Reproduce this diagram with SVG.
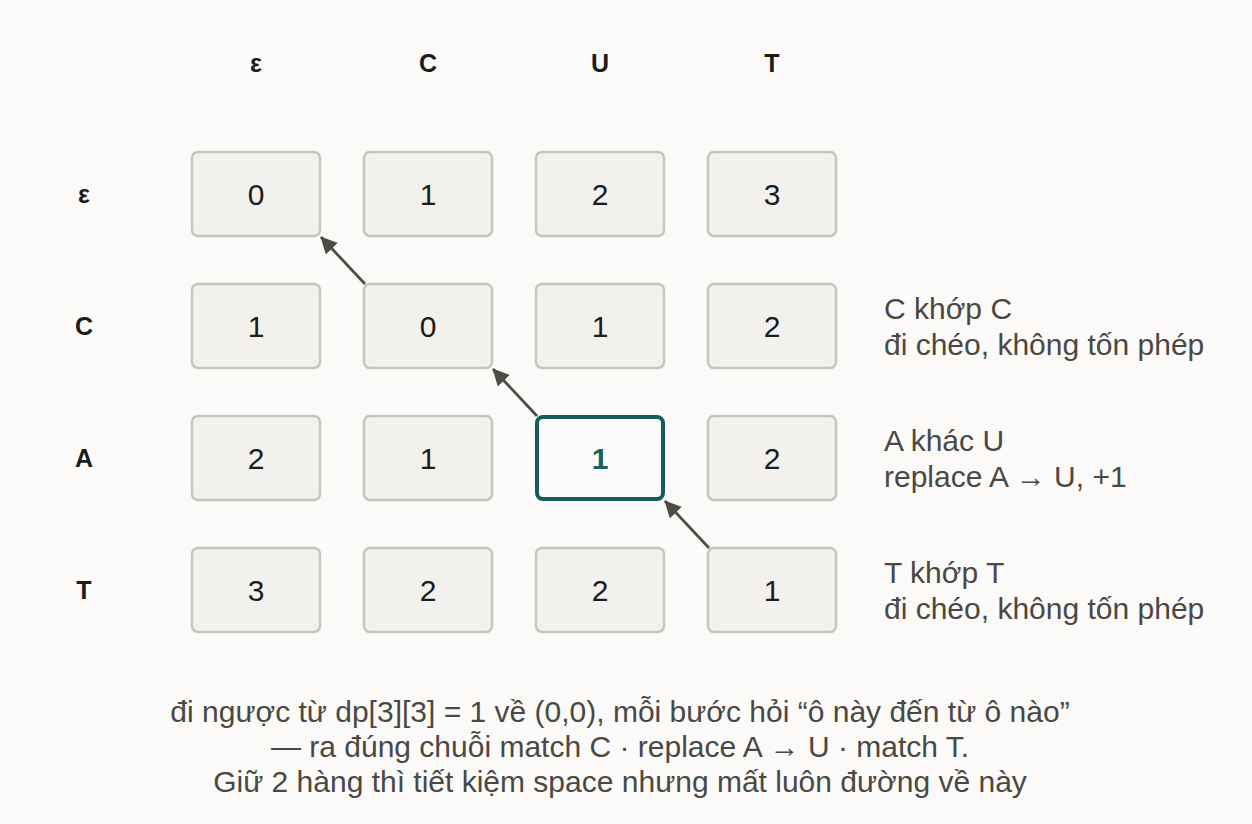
<svg xmlns="http://www.w3.org/2000/svg" width="1252" height="824" viewBox="0 0 1252 824">
<defs>
<marker id="ah" viewBox="0 0 10 10" refX="9.5" refY="5" markerWidth="6" markerHeight="6" markerUnits="strokeWidth" orient="auto">
<path d="M0,0 L10,5 L0,10 Z" fill="#4d4c47"/>
</marker>
<style>
.cell{fill:#f2f1ee;stroke:#c9c6be;stroke-width:2.5}
.hl{fill:#fcfbf9;stroke:#125f5a;stroke-width:4}
.num{font-family:"Liberation Sans",Arial,sans-serif;font-size:30px;fill:#1c1c1a;text-anchor:middle}
.numhl{font-family:"Liberation Sans",Arial,sans-serif;font-size:30px;font-weight:bold;fill:#17625c;text-anchor:middle}
.hdr{font-family:"Liberation Sans",Arial,sans-serif;font-size:25px;font-weight:bold;fill:#1c1c1a;text-anchor:middle}
.note{font-family:"Liberation Sans",Arial,sans-serif;font-size:30px;fill:#4a4843}
.foot{font-family:"Liberation Sans",Arial,sans-serif;font-size:30px;fill:#4a4843;text-anchor:middle}
.arr{stroke:#4d4c47;stroke-width:2.8;fill:none;marker-end:url(#ah)}
</style>
</defs>
<rect x="0" y="0" width="1252" height="824" fill="#fbfaf8"/>
<g id="headers">
<text class="hdr" x="256" y="72">ε</text>
<text class="hdr" x="428" y="72">C</text>
<text class="hdr" x="600" y="72">U</text>
<text class="hdr" x="772" y="72">T</text>
<text class="hdr" x="84" y="203">ε</text>
<text class="hdr" x="84" y="335">C</text>
<text class="hdr" x="84" y="467">A</text>
<text class="hdr" x="84" y="599">T</text>
</g>
<g id="c00"><rect class="cell" x="192" y="152" width="128" height="84" rx="6"/><text class="num" x="256" y="205">0</text></g>
<g id="c01"><rect class="cell" x="364" y="152" width="128" height="84" rx="6"/><text class="num" x="428" y="205">1</text></g>
<g id="c02"><rect class="cell" x="536" y="152" width="128" height="84" rx="6"/><text class="num" x="600" y="205">2</text></g>
<g id="c03"><rect class="cell" x="708" y="152" width="128" height="84" rx="6"/><text class="num" x="772" y="205">3</text></g>
<g id="c10"><rect class="cell" x="192" y="284" width="128" height="84" rx="6"/><text class="num" x="256" y="337">1</text></g>
<g id="c11"><rect class="cell" x="364" y="284" width="128" height="84" rx="6"/><text class="num" x="428" y="337">0</text></g>
<g id="c12"><rect class="cell" x="536" y="284" width="128" height="84" rx="6"/><text class="num" x="600" y="337">1</text></g>
<g id="c13"><rect class="cell" x="708" y="284" width="128" height="84" rx="6"/><text class="num" x="772" y="337">2</text></g>
<g id="c20"><rect class="cell" x="192" y="416" width="128" height="84" rx="6"/><text class="num" x="256" y="469">2</text></g>
<g id="c21"><rect class="cell" x="364" y="416" width="128" height="84" rx="6"/><text class="num" x="428" y="469">1</text></g>
<g id="c22"><rect class="hl" x="537" y="417" width="126" height="82" rx="6"/><text class="numhl" x="600" y="469">1</text></g>
<g id="c23"><rect class="cell" x="708" y="416" width="128" height="84" rx="6"/><text class="num" x="772" y="469">2</text></g>
<g id="c30"><rect class="cell" x="192" y="548" width="128" height="84" rx="6"/><text class="num" x="256" y="601">3</text></g>
<g id="c31"><rect class="cell" x="364" y="548" width="128" height="84" rx="6"/><text class="num" x="428" y="601">2</text></g>
<g id="c32"><rect class="cell" x="536" y="548" width="128" height="84" rx="6"/><text class="num" x="600" y="601">2</text></g>
<g id="c33"><rect class="cell" x="708" y="548" width="128" height="84" rx="6"/><text class="num" x="772" y="601">1</text></g>
<g id="connectors">
<line class="arr" x1="365" y1="284" x2="321" y2="237"/>
<line class="arr" x1="537" y1="416" x2="493" y2="369"/>
<line class="arr" x1="709" y1="548" x2="665" y2="501"/>
</g>
<g id="notes">
<text class="note" x="884" y="319">C khớp C</text>
<text class="note" x="884" y="355">đi chéo, không tốn phép</text>
<text class="note" x="884" y="451">A khác U</text>
<text class="note" x="884" y="487">replace A → U, +1</text>
<text class="note" x="884" y="583">T khớp T</text>
<text class="note" x="884" y="619">đi chéo, không tốn phép</text>
</g>
<g id="footer">
<text class="foot" x="620" y="722">đi ngược từ dp[3][3] = 1 về (0,0), mỗi bước hỏi “ô này đến từ ô nào”</text>
<text class="foot" x="620" y="757">— ra đúng chuỗi match C · replace A → U · match T.</text>
<text class="foot" x="620" y="792">Giữ 2 hàng thì tiết kiệm space nhưng mất luôn đường về này</text>
</g>
</svg>
